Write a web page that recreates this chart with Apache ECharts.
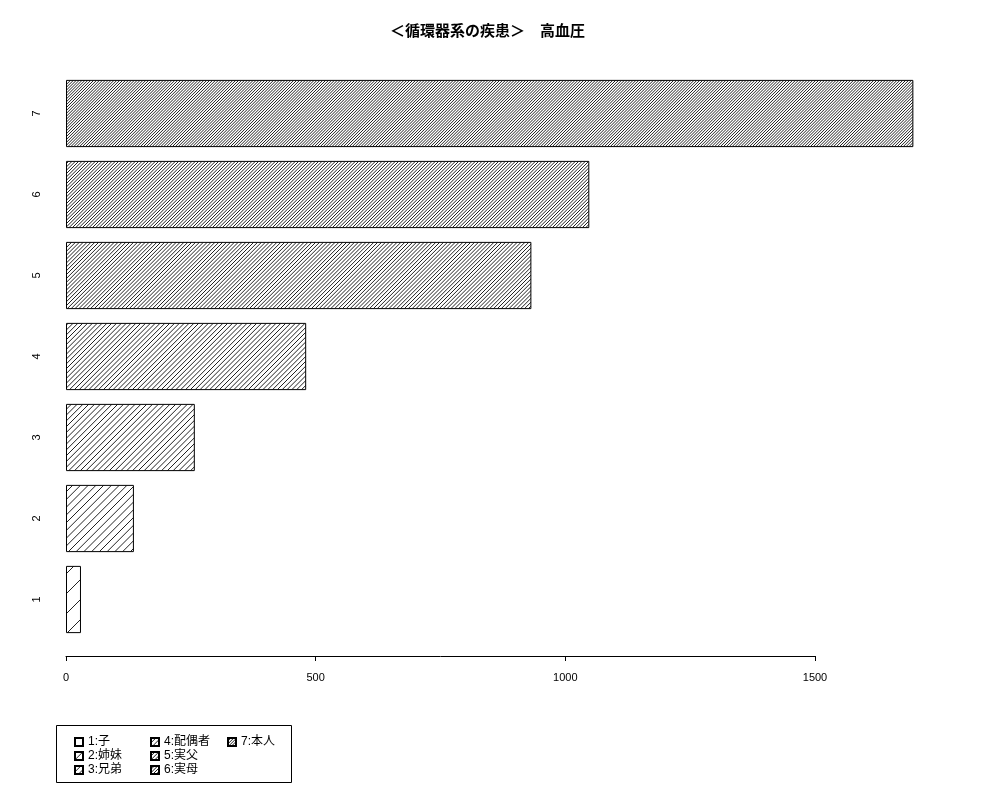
<!DOCTYPE html>
<html>
<head>
<meta charset="utf-8">
<title>高血圧</title>
<script src="https://cdn.jsdelivr.net/npm/echarts@6/dist/echarts.min.js"></script>
<style>
  html, body { margin: 0; padding: 0; background: #fff; }
  #chart { width: 1000px; height: 800px; }
</style>
</head>
<body>
<div id="chart"></div>
<script>
// data
const categories = ['1', '2', '3', '4', '5', '6', '7'];
const relations = ['1:子', '2:姉妹', '3:兄弟', '4:配偶者', '5:実父', '6:実母', '7:本人'];
const counts = [30, 136, 258, 481, 932, 1048, 1697];

// hatch spacing (px, horizontal) per bar
const hatchStep = [20, 7.7, 5.8, 4.8, 3.9, 3.3, 2.9];

const FONT = '"Liberation Sans", "Noto Sans CJK JP", sans-serif';

// diagonal hatch pattern
function hatch(s) {
  const k = Math.max(1, Math.round(30 / s));
  const T = Math.round(k * s);
  const step = T / k;
  const cv = document.createElement('canvas');
  cv.width = T;
  cv.height = T;
  const ctx = cv.getContext('2d');
  ctx.fillStyle = '#fff';
  ctx.fillRect(0, 0, T, T);
  ctx.strokeStyle = '#222';
  ctx.lineWidth = 1;
  ctx.beginPath();
  for (let c = -T; c <= 2 * T; c += step) {
    ctx.moveTo(c, 0);
    ctx.lineTo(c - T, T);
  }
  ctx.stroke();
  return { image: cv, repeat: 'repeat' };
}

const series = relations.map((name, i) => ({
  name: name,
  type: 'bar',
  barGap: '-100%',
  barCategoryGap: '17%',
  clip: false,
  itemStyle: {
    color: hatch(hatchStep[i]),
    borderColor: '#000',
    borderWidth: 1,
  },
  data: categories.map((c, j) => (j === i ? counts[i] : '-')),
}));

function legendCol(items, left) {
  return {
    data: items,
    orient: 'vertical',
    left: left,
    top: 731,
    icon: 'rect',
    itemWidth: 8,
    itemHeight: 8,
    itemGap: 2,
    selectedMode: false,
    textStyle: { color: '#000', fontSize: 12, fontFamily: FONT, lineHeight: 12 },
  };
}

const chart = echarts.init(document.getElementById('chart'));
chart.setOption({
  animation: false,
  backgroundColor: '#fff',
  title: {
    text: '＜循環器系の疾患＞　高血圧',
    left: 385,
    top: 19,
    textStyle: { color: '#000', fontSize: 15, fontWeight: 'bold', fontFamily: FONT },
  },
  grid: { left: 66, right: 185, top: 73, height: 567 },
  xAxis: {
    type: 'value',
    min: 0,
    max: 1500,
    interval: 500,
    offset: 16,
    axisLine: { show: true, lineStyle: { color: '#000', width: 1 } },
    axisTick: { show: true, length: 5, lineStyle: { color: '#000' } },
    splitLine: { show: false },
    axisLabel: {
      color: '#000',
      fontSize: 11,
      margin: 16,
      fontFamily: FONT,
      formatter: v => String(v),
    },
  },
  yAxis: {
    type: 'category',
    data: categories,
    axisLine: { show: false },
    axisTick: { show: false },
    axisLabel: { rotate: 90, margin: 24, color: '#000', fontSize: 11, fontFamily: FONT },
  },
  legend: [
    legendCol(relations.slice(0, 3), 69),
    legendCol(relations.slice(3, 6), 145),
    legendCol(relations.slice(6), 222),
  ],
  graphic: [
    {
      type: 'rect',
      shape: { x: 56.5, y: 725.5, width: 235, height: 57 },
      style: { fill: 'none', stroke: '#000', lineWidth: 1 },
    },
  ],
  series: series,
});
</script>
</body>
</html>
